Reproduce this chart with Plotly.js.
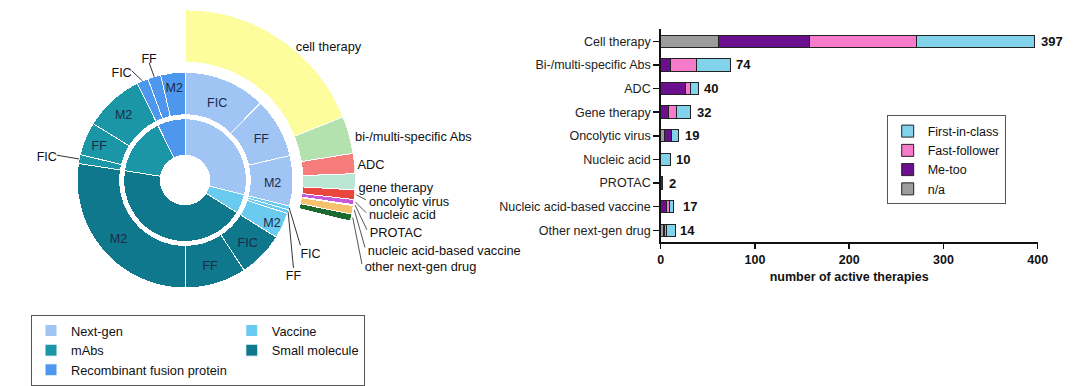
<!DOCTYPE html>
<html>
<head>
<meta charset="utf-8">
<script src="https://cdn.plot.ly/plotly-3.0.1.min.js"></script>
<style>html,body{margin:0;padding:0;background:#fff}#chart{width:1080px;height:386px}</style>
</head>
<body>
<div id="chart"></div>
<script>
// ================= DATA =================
// Donut: modality (inner ring) split into development class (outer ring)
const donutCategories = ['Next-gen', 'Vaccine', 'Small molecule', 'mAbs', 'Recombinant fusion protein'];
const devClasses = ['FIC', 'FF', 'M2'];
const nextGenClassCounts = [258, 189, 158];
const vaccineClassCounts = [12, 12, 81];
const smallMoleculeClassCounts = [144, 193, 576];
const mAbsClassCounts = [28, 104, 187];
const recombinantClassCounts = [36, 41, 76];

// Exploded ring: next-gen modality types
const nextGenTypes = ['cell therapy', 'bi-/multi-specific Abs', 'ADC', 'gene therapy', 'oncolytic virus',
  'nucleic acid', 'PROTAC', 'nucleic acid-based vaccine', 'other next-gen drug'];
const nextGenTypeCounts = [397, 74, 40, 32, 19, 10, 2, 17, 14];

// Bar chart
const barCategories = ['Cell therapy', 'Bi-/multi-specific Abs', 'ADC', 'Gene therapy', 'Oncolytic virus',
  'Nucleic acid', 'PROTAC', 'Nucleic acid-based vaccine', 'Other next-gen drug'];
const naValues           = [61, 0, 0, 0, 4, 0, 0, 0, 3];
const meTooValues        = [97, 10, 26, 8, 7, 0, 2, 6, 1];
const fastFollowerValues = [113, 28, 6, 9, 0, 0, 0, 3, 2];
const firstInClassValues = [126, 36, 8, 15, 8, 10, 0, 5, 10];
const totalLabels        = [397, 74, 40, 32, 19, 10, 2, 17, 14];
const xTicks = [0, 100, 200, 300, 400];

// ================= STYLE =================
const FONT = 'Liberation Sans, Arial, Helvetica, sans-serif';
const catColors = ['#a0c5f4', '#6acaef', '#0f788c', '#1a96a6', '#4d97ee'];
const catLegendGroup = ['col1', 'col2', 'col2', 'col1', 'col1'];
const typeColors = ['#fdfd9e', '#b3e2af', '#f67d7c', '#bae6d5', '#e9473d', '#c659d9', '#a99ef0', '#f6c16d', '#1d6a2e'];
const barColors = {na: '#9c9c9c', meToo: '#6b0f8f', ff: '#f67ccb', fic: '#80d3eb'};
const R_IN0 = 25, R_IN1 = 62, R_OUT0 = 66, R_OUT1 = 109, R_EXT0 = 119, R_EXT1 = 172;
const W = 1080, H = 386;
const CX = 185, CY = 182;   // donut centre in pixels (1 radial unit = 1 px)
const TEXT_DY = -3;         // small downward nudge for donut labels

// label radius overrides for in-ring labels
const inLabelRadius = {
  'Vaccine|M2': 97, 'Recombinant fusion protein|M2': 96, 'mAbs|FF': 94, 'mAbs|M2': 92, 'Next-gen|FIC': 86
};
// outer-ring labels drawn outside with a leader line (position of leader end, polar)
const leaderLabels = {
  'Vaccine|FIC': {r: 134, t: 119.5, pos: 'bottom right'},
  'Vaccine|FF': {r: 141, t: 129, pos: 'bottom center'},
  'mAbs|FIC': {r: 132, t: 281, pos: 'middle left'},
  'Recombinant fusion protein|FIC': {r: 123, t: 334, pos: 'middle left'},
  'Recombinant fusion protein|FF': {r: 124, t: 343, pos: 'top center'}
};
// label anchors for the exploded ring (polar r, theta)
const typeLabelAnchors = [
  {r: 176, t: 39, line: false}, {r: 176, t: 75.1, line: false}, {r: 173.5, t: 84.1, line: false},
  {r: 173.5, t: 91.8, line: false}, {r: 182, t: 96.3, line: true}, {r: 184, t: 100.3, line: true},
  {r: 188.7, t: 105.4, line: true}, {r: 192.4, t: 110.7, line: true}, {r: 196.2, t: 115.6, line: true}
];

// ================= BUILD =================
const sum = a => a.reduce((s, v) => s + v, 0);
const rad = d => d * Math.PI / 180;
const px = (r, t) => r * Math.sin(rad(t));
const py = (r, t) => r * Math.cos(rad(t));
// polar point nudged by TEXT_DY pixels vertically, returned as polar again
const nudged = (r, t) => {
  const x = px(r, t), y = py(r, t) + TEXT_DY;
  return [Math.hypot(x, y), Math.atan2(x, y) * 180 / Math.PI];
};
const classCountsByCat = [nextGenClassCounts, vaccineClassCounts, smallMoleculeClassCounts, mAbsClassCounts, recombinantClassCounts];
const grandTotal = sum(classCountsByCat.map(sum));
const degPer = 360 / grandTotal;

const traces = [];
const inText = {r: [], t: [], s: []};
const outText = {r: [], t: [], s: [], p: []};
const lineR = [], lineT = [];
let cum = 0;
classCountsByCat.forEach((arr, i) => {
  const total = sum(arr);
  const th = [], w = [], b = [], r = [];
  th.push((cum + total / 2) * degPer); w.push(total * degPer); b.push(R_IN0); r.push(R_IN1 - R_IN0);
  let c = cum;
  arr.forEach((v, k) => {
    const center = (c + v / 2) * degPer;
    th.push(center); w.push(v * degPer); b.push(R_OUT0); r.push(R_OUT1 - R_OUT0);
    const key = donutCategories[i] + '|' + devClasses[k];
    if (leaderLabels[key]) {
      const L = leaderLabels[key];
      lineR.push(R_OUT1, L.r, null); lineT.push(center, L.t, null);
      const q = nudged(L.r, L.t);
      outText.r.push(q[0]); outText.t.push(q[1]); outText.s.push(devClasses[k]); outText.p.push(L.pos);
    } else {
      const q = nudged(inLabelRadius[key] || (R_OUT0 + R_OUT1) / 2 + 1, center);
      inText.r.push(q[0]); inText.t.push(q[1]); inText.s.push(devClasses[k]);
    }
    c += v;
  });
  traces.push({
    type: 'barpolar', name: donutCategories[i], theta: th, width: w, base: b, r: r,
    marker: {color: catColors[i], line: {color: '#ffffff', width: 1}},
    legend: 'legend2', legendgroup: catLegendGroup[i], hoverinfo: 'name'
  });
  cum += total;
});

// exploded next-gen ring
const nextGenSpan = sum(nextGenClassCounts) * degPer;
const extPer = nextGenSpan / sum(nextGenTypeCounts);
const eth = [], ew = [], eb = [], er = [];
// its labels lie beyond the radial range: invisible cartesian overlay (1 unit = 1 px, origin = donut centre)
const typeText = {x: [], y: [], s: []};
const typeLineX = [], typeLineY = [];
let ec = 0;
nextGenTypeCounts.forEach((v, i) => {
  const center = (ec + v / 2) * extPer;
  eth.push(center); ew.push(v * extPer); eb.push(R_EXT0); er.push(R_EXT1 - R_EXT0);
  const A = typeLabelAnchors[i];
  const tr = A.line ? A.r + 3 : A.r;
  if (A.line) {
    typeLineX.push(px(R_EXT1, center), px(A.r, A.t), null);
    typeLineY.push(py(R_EXT1, center), py(A.r, A.t), null);
  }
  typeText.x.push(px(tr, A.t)); typeText.y.push(py(tr, A.t) + TEXT_DY);
  typeText.s.push(nextGenTypes[i]);
  ec += v;
});
traces.push({
  type: 'barpolar', name: 'next-gen types', theta: eth, width: ew, base: eb, r: er, text: nextGenTypes,
  marker: {color: typeColors, line: {color: '#ffffff', width: 1}}, showlegend: false, hoverinfo: 'text'
});
traces.push({
  type: 'scatterpolar', mode: 'lines', r: lineR, theta: lineT, connectgaps: false, cliponaxis: false,
  line: {color: '#333333', width: 1}, showlegend: false, hoverinfo: 'skip'
});
traces.push({
  type: 'scatterpolar', mode: 'text', r: inText.r, theta: inText.t, text: inText.s, cliponaxis: false,
  textposition: 'middle center', textfont: {family: FONT, size: 12.5, color: '#1c2a48'},
  showlegend: false, hoverinfo: 'skip'
});
traces.push({
  type: 'scatterpolar', mode: 'text', r: outText.r, theta: outText.t, text: outText.s, cliponaxis: false,
  textposition: outText.p, textfont: {family: FONT, size: 12.5, color: '#111111'},
  showlegend: false, hoverinfo: 'skip'
});
traces.push({
  type: 'scatter', mode: 'lines', x: typeLineX, y: typeLineY, xaxis: 'x2', yaxis: 'y2', cliponaxis: false,
  connectgaps: false, line: {color: '#555555', width: 1}, showlegend: false, hoverinfo: 'skip'
});
traces.push({
  type: 'scatter', mode: 'text', x: typeText.x, y: typeText.y, text: typeText.s, xaxis: 'x2', yaxis: 'y2',
  cliponaxis: false, textposition: 'middle right', textfont: {family: FONT, size: 12.8, color: '#111111'},
  showlegend: false, hoverinfo: 'skip'
});

// bar chart
const barSeries = [
  {name: 'n/a', x: naValues, color: barColors.na},
  {name: 'Me-too', x: meTooValues, color: barColors.meToo},
  {name: 'Fast-follower', x: fastFollowerValues, color: barColors.ff},
  {name: 'First-in-class', x: firstInClassValues, color: barColors.fic}
];
barSeries.forEach(s => {
  traces.push({
    type: 'bar', orientation: 'h', name: s.name, x: s.x, y: barCategories, width: 0.52,
    marker: {color: s.color, line: {color: '#222222', width: 1}},
    xaxis: 'x', yaxis: 'y', legend: 'legend'
  });
});

const annotations = totalLabels.map((v, i) => ({
  x: v, y: barCategories[i], xref: 'x', yref: 'y', text: String(v), showarrow: false,
  xanchor: 'left', yanchor: 'middle', xshift: 4,
  font: {family: FONT, size: 13, color: '#111111', weight: 'bold'}
}));

const layout = {
  width: W, height: H,
  margin: {l: 0, r: 0, t: 0, b: 0},
  paper_bgcolor: '#ffffff', plot_bgcolor: 'rgba(0,0,0,0)',
  font: {family: FONT, color: '#111111'},
  barmode: 'stack',
  polar: {
    domain: {x: [(CX - R_EXT1) / W, (CX + R_EXT1) / W], y: [(H - CY - R_EXT1) / H, (H - CY + R_EXT1) / H]},
    bgcolor: 'rgba(0,0,0,0)',
    barmode: 'overlay',
    hole: 0,
    angularaxis: {rotation: 90, direction: 'clockwise', visible: false},
    radialaxis: {range: [0, R_EXT1], visible: false}
  },
  xaxis: {
    domain: [660.7 / W, 1037.7 / W], range: [0, 400], tickvals: xTicks,
    showline: true, linecolor: '#111111', linewidth: 1.5, ticks: 'outside', ticklen: 5, tickwidth: 1.5,
    tickcolor: '#111111', showgrid: false, zeroline: false,
    tickfont: {family: FONT, size: 12.5, color: '#111111', weight: 'bold'},
    title: {text: 'number of active therapies', standoff: 6,
      font: {family: FONT, size: 12.5, color: '#111111', weight: 'bold'}},
    anchor: 'y'
  },
  yaxis: {
    domain: [(H - 244.6) / H, (H - 29.75) / H], type: 'category', categoryarray: barCategories,
    categoryorder: 'array', range: [8.5, -0.5], autorange: false,
    showline: true, linecolor: '#111111', linewidth: 1.5, ticks: 'outside', ticklen: 6, tickwidth: 1.5,
    tickcolor: '#111111', showgrid: false, zeroline: false,
    tickfont: {family: FONT, size: 12.5, color: '#222222'}, anchor: 'x'
  },
  xaxis2: {domain: [0, 1], range: [-CX, W - CX], visible: false, anchor: 'y2', showgrid: false, zeroline: false},
  yaxis2: {domain: [0, 1], range: [-(H - CY), CY], visible: false, anchor: 'x2', showgrid: false, zeroline: false},
  legend: {
    x: 886.7 / W, y: (H - 116.7) / H, xanchor: 'left', yanchor: 'top', traceorder: 'reversed',
    bgcolor: '#ffffff', bordercolor: '#555555', borderwidth: 1,
    font: {family: FONT, size: 12.5, color: '#111111'}
  },
  legend2: {
    x: 31 / W, y: (H - 318) / H, xanchor: 'left', yanchor: 'top', orientation: 'h', traceorder: 'grouped',
    bgcolor: '#ffffff', bordercolor: '#555555', borderwidth: 1,
    font: {family: FONT, size: 12.8, color: '#111111'}
  },
  annotations: annotations,
  showlegend: true
};

Plotly.newPlot('chart', traces, layout, {displayModeBar: false, staticPlot: true});
</script>
</body>
</html>
